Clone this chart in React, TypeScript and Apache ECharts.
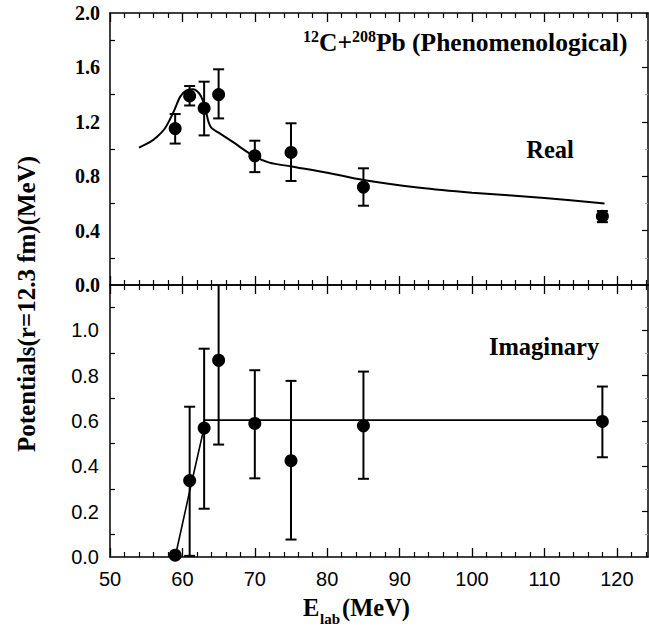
import React, { useEffect, useRef } from "react";
import * as echarts from "echarts";

// ---- Data ----
const energies = [59, 61, 63, 65, 70, 75, 85, 118];

const realValues = [1.15, 1.39, 1.3, 1.4, 0.95, 0.975, 0.72, 0.505];
const realLow = [1.04, 1.32, 1.1, 1.225, 0.83, 0.765, 0.583, 0.462];
const realHigh = [1.257, 1.463, 1.495, 1.586, 1.061, 1.189, 0.858, 0.544];

const imagValues = [0.008, 0.337, 0.569, 0.868, 0.589, 0.425, 0.579, 0.598];
const imagLow = [null, 0.005, 0.213, 0.496, 0.347, 0.077, 0.345, 0.44];
const imagHigh = [null, 0.663, 0.919, 1.3, 0.824, 0.777, 0.818, 0.752];

const realCurveE = [54.0, 55.5, 56.5, 57.5, 58.3, 59.0, 59.7, 60.5, 61.5, 62.3, 62.8, 63.2, 63.6, 64.0, 65.0, 67.0, 69.8, 72.0, 75.0, 80.0, 85.0, 92.8, 100, 110, 118.3];
const realCurveV = [1.01, 1.05, 1.09, 1.145, 1.22, 1.3, 1.385, 1.43, 1.44, 1.41, 1.36, 1.29, 1.2, 1.155, 1.12, 1.05, 0.95, 0.9, 0.872, 0.826, 0.772, 0.715, 0.679, 0.64, 0.6];

const imagLineE = [59, 61, 63, 63, 118];
const imagLineV = [0.0, 0.29, 0.572, 0.604, 0.604];

// tick labels / tick positions
const xMajorTicks = [50, 60, 70, 80, 90, 100, 110, 120];
const xMinorTicks = [52, 54, 56, 58, 62, 64, 66, 68, 72, 74, 76, 78, 82, 84, 86, 88, 92, 94, 96, 98, 102, 104, 106, 108, 112, 114, 116, 118, 122, 124];
const realMajorTicks = [0, 0.4, 0.8, 1.2, 1.6, 2.0];
const realMinorTicks = [0.2, 0.6, 1.0, 1.4, 1.8];
const imagMajorTicks = [0, 0.2, 0.4, 0.6, 0.8, 1.0];
const imagMinorTicks = [0.1, 0.3, 0.5, 0.7, 0.9, 1.1];

const SERIF = "'Liberation Serif', 'Times New Roman', serif";
const SANS = "'Liberation Sans', Arial, Helvetica, sans-serif";

export default function App() {
  const ref = useRef<HTMLDivElement>(null);

  useEffect(() => {
    if (!ref.current) return;
    const chart = echarts.init(ref.current, null, { renderer: "svg" });

    const lineStyle = { color: "#000", width: 1.5 };
    const X_MIN = 50;
    const X_MAX = 124.3;

    const xMain = (grid: number, position: string, labels: boolean, len: number) => ({
      type: "value",
      gridIndex: grid,
      position,
      min: X_MIN,
      max: X_MAX,
      splitLine: { show: false },
      axisLine: { show: true, onZero: false, lineStyle },
      axisTick: { show: true, inside: true, length: len, customValues: xMajorTicks, lineStyle: { color: "#000", width: 1.3 } },
      axisLabel: labels
        ? { show: true, customValues: xMajorTicks, fontFamily: SANS, fontSize: 20, color: "#000", margin: 12, formatter: (v: number) => String(v) }
        : { show: false },
    });
    const xMinor = (grid: number, position: string, len: number) => ({
      type: "value",
      gridIndex: grid,
      position,
      min: X_MIN,
      max: X_MAX,
      splitLine: { show: false },
      axisLine: { show: false, onZero: false },
      axisTick: { show: true, inside: true, length: len, customValues: xMinorTicks, lineStyle: { color: "#000", width: 1.2 } },
      axisLabel: { show: false },
    });

    const yAxisDef = (
      grid: number,
      position: string,
      max: number,
      showLine: boolean,
      ticks: number[],
      len: number,
      labels: any,
      tickColor = "#000"
    ) => ({
      type: "value",
      gridIndex: grid,
      position,
      min: 0,
      max,
      splitLine: { show: false },
      axisLine: { show: showLine, onZero: false, lineStyle },
      axisTick: { show: true, inside: true, length: len, customValues: ticks, lineStyle: { color: tickColor, width: 1.2 } },
      axisLabel: labels || { show: false },
    });

    const errData = (lo: (number | null)[], hi: (number | null)[]) =>
      energies
        .map((e, i) => [e, lo[i], hi[i]])
        .filter((d) => d[1] !== null && d[2] !== null);

    const errRender = (params: any, api: any) => {
      const x = api.value(0);
      const lo = api.value(1);
      const hi = api.value(2);
      const cs = params.coordSys;
      const pLo = api.coord([x, lo]);
      const pHi = api.coord([x, hi]);
      const top = Math.max(pHi[1], cs.y);
      const bottom = Math.min(pLo[1], cs.y + cs.height);
      const w = 5.5;
      const st = { stroke: "#000", lineWidth: 2 };
      const children: any[] = [
        { type: "line", shape: { x1: pLo[0], y1: bottom, x2: pLo[0], y2: top }, style: st },
      ];
      if (pHi[1] >= cs.y)
        children.push({ type: "line", shape: { x1: pHi[0] - w, y1: pHi[1], x2: pHi[0] + w, y2: pHi[1] }, style: st });
      if (pLo[1] <= cs.y + cs.height)
        children.push({ type: "line", shape: { x1: pLo[0] - w, y1: pLo[1], x2: pLo[0] + w, y2: pLo[1] }, style: st });
      return { type: "group", children };
    };

    const titleFont = { fontFamily: SERIF, fontWeight: "bold", fill: "#000" };

    const option: any = {
      animation: false,
      backgroundColor: "#fff",
      grid: [
        { left: 110, right: 1, top: 13, height: 272, containLabel: false },
        { left: 110, right: 1, top: 285, height: 272, containLabel: false },
      ],
      xAxis: [
        xMain(0, "bottom", false, 9),
        xMinor(0, "bottom", 5),
        xMain(0, "top", false, 9),
        xMinor(0, "top", 5),
        xMain(1, "bottom", true, 9),
        xMinor(1, "bottom", 5),
        xMain(1, "top", false, 9),
        xMinor(1, "top", 5),
      ],
      yAxis: [
        yAxisDef(0, "left", 2, true, realMinorTicks, 5, {
          show: true,
          customValues: realMajorTicks,
          fontFamily: SERIF,
          fontWeight: "bold",
          fontSize: 20,
          color: "#000",
          margin: 10,
          formatter: (v: number) => v.toFixed(1),
        }),
        yAxisDef(0, "right", 2, true, [0.4, 0.8, 1.2, 1.6], 6, null),
        yAxisDef(0, "right", 2, false, realMinorTicks, 3, null, "#999"),
        yAxisDef(1, "left", 1.2, true, imagMinorTicks, 5, {
          show: true,
          customValues: imagMajorTicks,
          fontFamily: SANS,
          fontSize: 20,
          color: "#000",
          margin: 11,
          formatter: (v: number) => v.toFixed(1),
        }),
        yAxisDef(1, "right", 1.2, true, [0.2, 0.4, 0.6, 0.8, 1.0], 6, null),
        yAxisDef(1, "right", 1.2, false, imagMinorTicks, 3, null, "#999"),
      ],
      series: [
        {
          type: "line",
          xAxisIndex: 0,
          yAxisIndex: 0,
          data: realCurveE.map((e, i) => [e, realCurveV[i]]),
          showSymbol: false,
          smooth: 0.3,
          lineStyle: { color: "#000", width: 2 },
          z: 2,
        },
        {
          type: "custom",
          xAxisIndex: 0,
          yAxisIndex: 0,
          data: errData(realLow, realHigh),
          encode: { x: 0, y: [1, 2] },
          renderItem: errRender,
          z: 3,
        },
        {
          type: "scatter",
          xAxisIndex: 0,
          yAxisIndex: 0,
          data: energies.map((e, i) => [e, realValues[i]]),
          symbol: "circle",
          symbolSize: 13,
          itemStyle: { color: "#000", opacity: 1 },
          z: 4,
        },
        {
          type: "line",
          xAxisIndex: 4,
          yAxisIndex: 3,
          data: imagLineE.map((e, i) => [e, imagLineV[i]]),
          showSymbol: false,
          lineStyle: { color: "#000", width: 1.6 },
          z: 2,
        },
        {
          type: "custom",
          xAxisIndex: 4,
          yAxisIndex: 3,
          data: errData(imagLow, imagHigh),
          encode: { x: 0, y: [1, 2] },
          renderItem: errRender,
          z: 3,
        },
        {
          type: "scatter",
          xAxisIndex: 4,
          yAxisIndex: 3,
          data: energies.map((e, i) => [e, imagValues[i]]),
          symbol: "circle",
          symbolSize: 13,
          itemStyle: { color: "#000", opacity: 1 },
          z: 4,
        },
      ],
      graphic: [
        {
          type: "text",
          x: 303,
          y: 42,
          style: {
            text: "{sup|12}{b|C+}{sup|208}{b|Pb (Phenomenological)}",
            align: "left",
            verticalAlign: "middle",
            rich: {
              b: { ...titleFont, fontSize: 25.5, lineHeight: 27 },
              sup: { ...titleFont, fontSize: 16, verticalAlign: "top", lineHeight: 17 },
            },
          },
        },
        {
          type: "text",
          x: 550,
          y: 149,
          style: { text: "Real", ...titleFont, fontSize: 24.5, align: "center", verticalAlign: "middle" },
        },
        {
          type: "text",
          x: 544,
          y: 346,
          style: { text: "Imaginary", ...titleFont, fontSize: 24.5, align: "center", verticalAlign: "middle" },
        },
        {
          type: "text",
          x: 303,
          y: 607,
          style: { text: "E", ...titleFont, fontSize: 24.5, align: "left", verticalAlign: "middle" },
        },
        {
          type: "text",
          x: 320,
          y: 619,
          style: { text: "lab", ...titleFont, fontSize: 15, align: "left", verticalAlign: "middle" },
        },
        {
          type: "text",
          x: 342,
          y: 607,
          style: { text: "(MeV)", ...titleFont, fontSize: 24.5, align: "left", verticalAlign: "middle" },
        },
        {
          type: "text",
          x: 26,
          y: 304,
          rotation: Math.PI / 2,
          style: {
            text: "Potentials(r=12.3 fm)(MeV)",
            ...titleFont,
            fontSize: 25,
            align: "center",
            verticalAlign: "middle",
          },
        },
      ],
    };

    chart.setOption(option);
    return () => chart.dispose();
  }, []);

  return (
    <div
      ref={ref}
      style={{ position: "fixed", left: 0, top: 0, width: 649, height: 629, background: "#fff" }}
    />
  );
}
